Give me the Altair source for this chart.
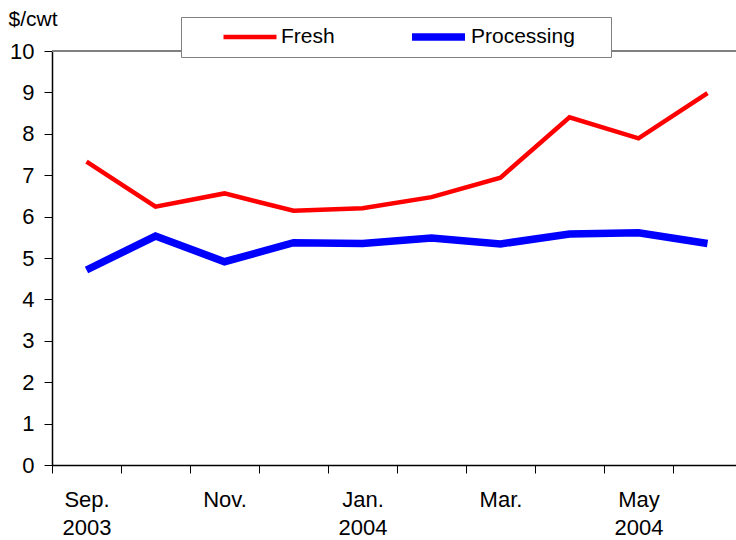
import altair as alt
import pandas as pd

# Monthly prices, Sep. 2003 - Jun. 2004 ($/cwt)
months = ["2003-09", "2003-10", "2003-11", "2003-12", "2004-01",
          "2004-02", "2004-03", "2004-04", "2004-05", "2004-06"]
fresh = [7.33, 6.24, 6.56, 6.14, 6.20, 6.47, 6.94, 8.40, 7.89, 8.98]
processing = [4.71, 5.53, 4.91, 5.37, 5.35, 5.48, 5.34, 5.58, 5.61, 5.35]

# Axis labels (two lines) shown on every other month
label_months = ["2003-09", "2003-11", "2004-01", "2004-03", "2004-05"]
label_top = ["Sep.", "Nov.", "Jan.", "Mar.", "May"]
label_bottom = ["2003", "", "2004", "", "2004"]

series = ["Fresh", "Processing"]
colors = ["#ff0000", "#0000ff"]
widths = [4.5, 7.5]

rows = []
for m, f, p in zip(months, fresh, processing):
    rows.append({"month": m, "series": "Fresh", "price": f})
    rows.append({"month": m, "series": "Processing", "price": p})
df = pd.DataFrame(rows)

label_expr = " : ".join(
    f"datum.value == '{m}' ? ['{a}', '{b}']"
    for m, a, b in zip(label_months, label_top, label_bottom)
) + " : ''"

FONT = "Liberation Sans"

x_enc = alt.X(
    "month:O",
    sort=months,
    bandPosition=0.5,
    scale=alt.Scale(type="band", paddingInner=0, paddingOuter=0, range=[0, 690]),
    axis=alt.Axis(
        title=None,
        labelExpr=label_expr,
        labelAngle=0,
        labelFontSize=22,
        labelFont=FONT,
        labelColor="#000000",
        labelPadding=33,
        labelLineHeight=28,
        labelBaseline="alphabetic",
        labelOverlap=False,
        tickBand="extent",
        tickSize=8,
        tickColor="#000000",
        domainColor="#000000",
        domainWidth=1.5,
        grid=False,
    ),
)

y_enc = alt.Y(
    "price:Q",
    scale=alt.Scale(domain=[0, 10], nice=False),
    axis=alt.Axis(
        title="$/cwt",
        titleAngle=0,
        titleAlign="left",
        titleAnchor="end",
        titleBaseline="bottom",
        titleX=-44,
        titleY=-22,
        titleFont=FONT,
        titleFontSize=21,
        titleFontWeight="normal",
        titleColor="#000000",
        values=list(range(0, 11)),
        labelFontSize=22,
        labelFont=FONT,
        labelColor="#000000",
        labelPadding=10,
        tickSize=8,
        tickColor="#000000",
        domainColor="#000000",
        domainWidth=1.5,
        grid=False,
    ),
)

# Shared legend for colour and stroke width; a blank title on the right
# widens the frame past the last entry.
legend = alt.Legend(
    title="\u00a0",
    titleOrient="right",
    titlePadding=28,
    titleFontSize=21,
    titleFont=FONT,
    orient="none",
    direction="horizontal",
    legendX=129,
    legendY=-34,
    symbolType="stroke",
    symbolSize=2809,
    symbolOffset=32,
    clipHeight=24,
    labelOffset=2,
    labelFont=FONT,
    labelFontSize=21,
    labelColor="#000000",
    columnPadding=41,
    padding=8,
    fillColor="#ffffff",
    strokeColor="#808080",
    cornerRadius=0,
)

lines = alt.Chart(df).mark_line(strokeCap="butt", strokeJoin="miter").encode(
    x=x_enc,
    y=y_enc,
    color=alt.Color(
        "series:N",
        scale=alt.Scale(domain=series, range=colors),
        legend=legend,
    ),
    strokeWidth=alt.StrokeWidth(
        "series:N",
        scale=alt.Scale(domain=series, range=widths),
        legend=legend,
    ),
)

# Gray frame line along the top of the plot area
top_line = alt.Chart(pd.DataFrame({"top": [10]})).mark_rule(
    color="#808080", strokeWidth=2
).encode(y=alt.Y("top:Q", scale=alt.Scale(domain=[0, 10], nice=False)))

chart = (
    alt.layer(top_line, lines)
    .properties(
        width=684,
        height=414,
        autosize=alt.AutoSizeParams(type="none"),
        padding={"left": 52, "top": 51, "right": 0, "bottom": 75},
        background="#ffffff",
    )
    .configure_view(stroke=None)
)

chart.save("out.html", embed_options={"renderer": "svg", "actions": False})
